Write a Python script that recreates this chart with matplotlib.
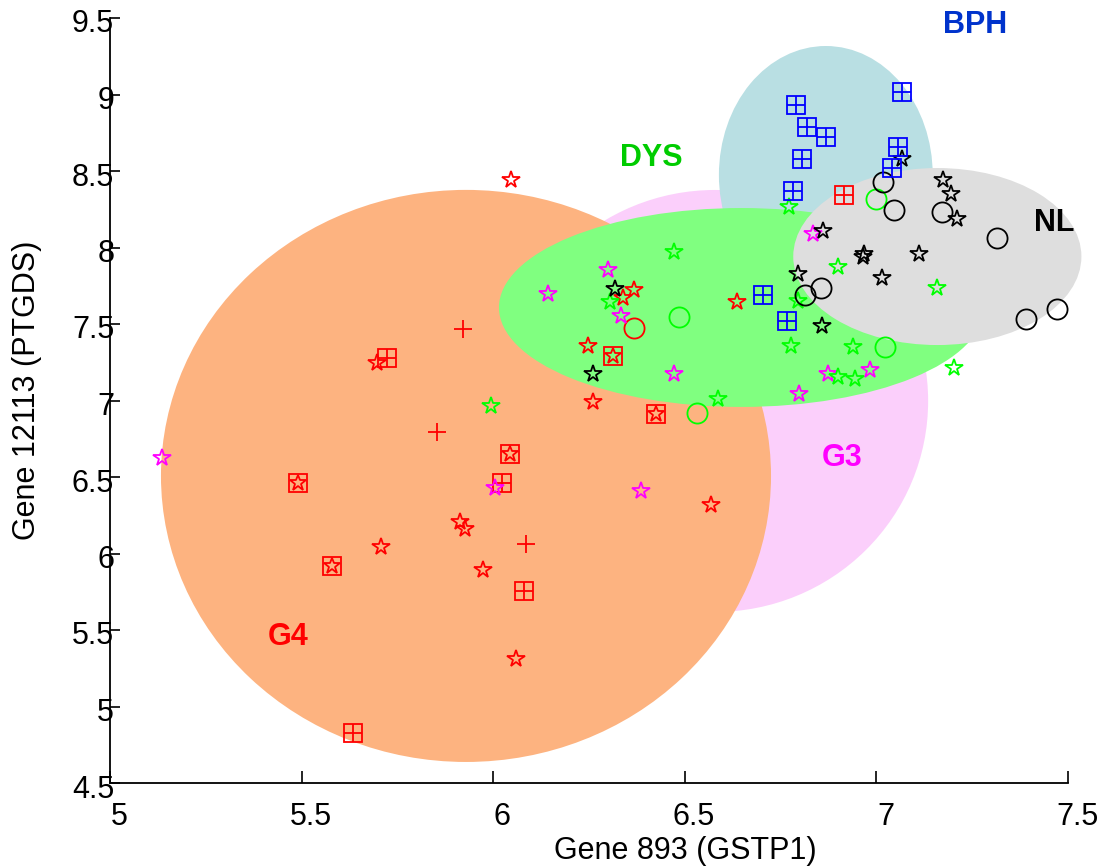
import matplotlib
matplotlib.use("Agg")
import matplotlib.pyplot as plt
from matplotlib.patches import Ellipse
from matplotlib.transforms import ScaledTranslation

# ---------------- data ----------------
# cluster ellipses: name, centre x, centre y, width, height
ell_names = ["G3", "G4", "BPH", "DYS", "NL"]
ell_cx = [6.579, 5.929, 6.868, 6.648, 7.159]
ell_cy = [6.997, 6.507, 8.474, 7.608, 7.941]
ell_w = [1.112, 1.592, 0.558, 1.266, 0.752]
ell_h = [2.758, 3.739, 1.686, 1.300, 1.157]

# group labels
lab_text = ["BPH", "DYS", "G3", "G4", "NL"]
lab_x = [7.257, 6.412, 6.910, 5.464, 7.463]
lab_y = [9.454, 8.585, 6.624, 5.454, 8.160]

# red (G4) samples
red_star_x = [6.046, 6.367, 6.339, 6.636, 6.247, 6.260, 5.697, 5.913, 5.926, 5.707, 5.973, 6.060, 6.568]
red_star_y = [8.441, 7.722, 7.670, 7.644, 7.356, 6.990, 7.245, 6.206, 6.160, 6.043, 5.892, 5.310, 6.320]
red_circ_x = [6.367]
red_circ_y = [7.474]
red_plus_x = [5.921, 5.853, 6.086]
red_plus_y = [7.467, 6.794, 6.062]
red_sqplus_x = [5.723, 6.023, 6.080, 5.634, 6.915]
red_sqplus_y = [7.278, 6.460, 5.755, 4.827, 8.343]
red_sqstar_x = [6.313, 6.425, 6.044, 5.490, 5.579]
red_sqstar_y = [7.290, 6.912, 6.650, 6.460, 5.918]

# magenta (G3) samples
mag_star_x = [6.300, 6.143, 6.334, 6.472, 6.797, 5.136, 6.005, 6.386, 6.835, 6.874, 6.983]
mag_star_y = [7.850, 7.696, 7.552, 7.173, 7.045, 6.624, 6.428, 6.408, 8.090, 7.173, 7.200]

# green (DYS) samples
grn_star_x = [6.305, 6.472, 6.777, 6.587, 5.994, 6.772, 6.900, 6.795, 7.158, 6.939, 6.900, 6.944, 7.203]
grn_star_y = [7.644, 7.970, 7.356, 7.010, 6.964, 8.265, 7.870, 7.650, 7.735, 7.350, 7.154, 7.140, 7.210]
grn_circ_x = [6.485, 6.532, 6.999, 7.022]
grn_circ_y = [7.546, 6.918, 8.317, 7.350]

# black (NL) samples
blk_star_x = [6.318, 6.260, 7.067, 7.174, 7.195, 7.210, 6.861, 6.968, 6.965, 7.111, 7.015, 6.795, 6.858]
blk_star_y = [7.729, 7.173, 8.580, 8.440, 8.350, 8.186, 8.110, 7.960, 7.940, 7.957, 7.800, 7.826, 7.487]
blk_circ_x = [7.017, 7.046, 7.171, 7.315, 6.855, 6.814, 7.390, 7.470]
blk_circ_y = [8.430, 8.245, 8.230, 8.060, 7.735, 7.690, 7.530, 7.600]

# blue (BPH) samples
blu_sqplus_x = [7.067, 6.790, 6.820, 6.868, 6.806, 7.056, 7.040, 6.782, 6.704, 6.767]
blu_sqplus_y = [9.016, 8.930, 8.790, 8.720, 8.580, 8.657, 8.520, 8.370, 7.690, 7.520]

x_ticks = [5, 5.5, 6, 6.5, 7, 7.5]
x_ticklabels = ["5", "5.5", "6", "6.5", "7", "7.5"]
y_ticks = [4.5, 5, 5.5, 6, 6.5, 7, 7.5, 8, 8.5, 9, 9.5]
y_ticklabels = ["4.5", "5", "5.5", "6", "6.5", "7", "7.5", "8", "8.5", "9", "9.5"]

# ---------------- styles ----------------
plt.rcParams['font.family'] = ['Liberation Sans', 'DejaVu Sans']
ell_colors = {"G3": "#FBCFFB", "G4": "#FDB380", "BPH": "#B9DFE3", "DYS": "#80FF80", "NL": "#DEDEDE"}
lab_colors = {"BPH": "#0033CC", "DYS": "#00CC00", "G3": "#FF00FF", "G4": "#FF0000", "NL": "#000000"}
RED, MAG, GRN, BLK, BLU = "#FF0000", "#FF00FF", "#00FF00", "#000000", "#0000FF"

fig = plt.figure(figsize=(11.05, 8.67), dpi=100)
ax = fig.add_axes([110 / 1105, 1 - 783 / 867, 958 / 1105, 765 / 867])

for i, name in enumerate(ell_names):
    ax.add_patch(Ellipse((ell_cx[i], ell_cy[i]), ell_w[i], ell_h[i],
                         facecolor=ell_colors[name], edgecolor='none', zorder=1 + i * 0.01,
                         clip_on=False))

MS = 13.0
MEW = 1.3


def mk(x, y, marker, color, ms=MS):
    ax.plot(x, y, linestyle='none', marker=marker, markersize=ms, markerfacecolor='none',
            markeredgecolor=color, markeredgewidth=MEW, zorder=3, clip_on=False)


mk(red_star_x, red_star_y, '*', RED)
mk(red_circ_x, red_circ_y, 'o', RED, 14.5)
mk(red_plus_x, red_plus_y, '+', RED)
mk(red_sqplus_x, red_sqplus_y, 's', RED)
mk(red_sqplus_x, red_sqplus_y, '+', RED)
mk(red_sqstar_x, red_sqstar_y, 's', RED)
mk(red_sqstar_x, red_sqstar_y, '*', RED, 12)
mk(mag_star_x, mag_star_y, '*', MAG)
mk(grn_star_x, grn_star_y, '*', GRN)
mk(grn_circ_x, grn_circ_y, 'o', GRN, 14.5)
mk(blk_star_x, blk_star_y, '*', BLK)
mk(blk_circ_x, blk_circ_y, 'o', BLK, 14.5)
mk(blu_sqplus_x, blu_sqplus_y, 's', BLU)
mk(blu_sqplus_x, blu_sqplus_y, '+', BLU)

for t, x, y in zip(lab_text, lab_x, lab_y):
    ax.text(x, y, t, color=lab_colors[t], fontsize=22, fontweight='bold',
            ha='center', va='center', zorder=4)

ax.set_xlim(5, 7.5)
ax.set_ylim(4.5, 9.5)
ax.set_xticks(x_ticks)
ax.set_xticklabels(x_ticklabels)
ax.set_yticks(y_ticks)
ax.set_yticklabels(y_ticklabels)
for s in ['top', 'right']:
    ax.spines[s].set_visible(False)
for s in ['left', 'bottom']:
    ax.spines[s].set_linewidth(1.3)
    ax.spines[s].set_zorder(5)
ax.tick_params(axis='x', direction='in', length=8.5, width=1.2, pad=14, labelsize=22)
ax.tick_params(axis='y', direction='in', length=7.5, width=1.2, pad=-3, labelsize=22)

fig.text(685 / 1105, 1 - 851 / 867, "Gene 893 (GSTP1)", fontsize=22, ha='center', va='center')
fig.text(27 / 1105, 1 - 390 / 867, "Gene 12113 (PTGDS)", fontsize=22, ha='center', va='center',
         rotation=90)

fig.canvas.draw()
for lab in ax.get_xticklabels():
    lab.set_transform(lab.get_transform() + ScaledTranslation(9 / 100, 0, fig.dpi_scale_trans))
for lab in ax.get_yticklabels():
    lab.set_transform(lab.get_transform() + ScaledTranslation(0, -3 / 100, fig.dpi_scale_trans))

fig.savefig("out.png", dpi=100)
